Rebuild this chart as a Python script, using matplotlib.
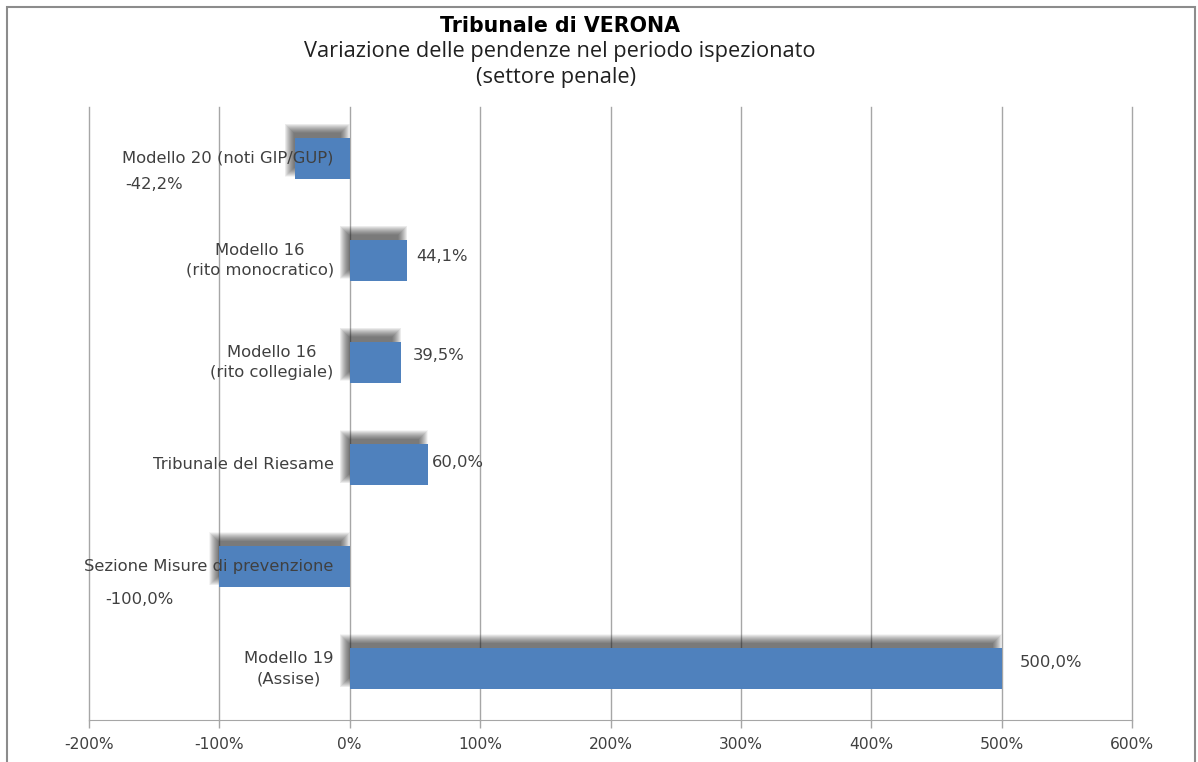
import numpy as np
import matplotlib
matplotlib.use('Agg')
import matplotlib.pyplot as plt
from matplotlib.patches import Rectangle

# dati (variazione % pendenze)
categorie = ['Modello 20 (noti GIP/GUP)',
             'Modello 16\n(rito monocratico)',
             'Modello 16\n(rito collegiale)',
             'Tribunale del Riesame',
             'Sezione Misure di prevenzione',
             'Modello 19\n(Assise)']
valori = [-42.2, 44.1, 39.5, 60.0, -100.0, 500.0]
etichette = ['-42,2%', '44,1%', '39,5%', '60,0%', '-100,0%', '500,0%']
tick_x = [-200, -100, 0, 100, 200, 300, 400, 500, 600]
tick_lab = ['-200%', '-100%', '0%', '100%', '200%', '300%', '400%', '500%', '600%']

# spostamento delle etichette dei valori (in pixel: dx, dy)
off_lab = [(-141, -26), (9, 4), (12, 7), (4, 2), (-80, -33), (18, 6)]

col_barra = '#4F81BD'
col_testo = '#404040'
col_griglia = '#A6A6A6'

fig = plt.figure(figsize=(11.98, 7.62), dpi=100)
ax = fig.add_axes([89/1198, 42/762, 1043/1198, 613/762])

y = np.arange(len(valori))
h = 0.4

# conversione pixel -> unità dati per l'ombra
px_x = 800 / 1043.0
px_y = 6 / 613.0

# ombra sfumata (in alto a sinistra)
for m in np.arange(6, -3.5, -0.5):
    for yi, v in zip(y, valori):
        x0 = min(0, v) - 4 * px_x - m * px_x
        w = abs(v) + 2 * m * px_x - 2 * px_x
        y0 = yi - h / 2 - 8 * px_y - m * px_y
        ax.add_patch(Rectangle((x0, y0), w, h + 2 * m * px_y,
                               facecolor='#202020', alpha=0.045,
                               edgecolor='none', zorder=2))

ax.barh(y, valori, height=h, color=col_barra, zorder=3)

# etichette categoria a sinistra dello zero
for yi, c in zip(y, categorie):
    ax.annotate(c, xy=(0, yi), xytext=(-11.5, 0), textcoords='offset points',
                ha='right', va='center', multialignment='center',
                fontsize=11.8, color=col_testo, linespacing=1.45, zorder=4)

# etichette valori
for yi, v, lab, (dx, dy) in zip(y, valori, etichette, off_lab):
    ha = 'left' if v > 0 else 'center'
    ax.annotate(lab, xy=(v, yi), xytext=(dx * 0.72, dy * 0.72),
                textcoords='offset points', ha=ha, va='center',
                fontsize=11.8, color=col_testo, zorder=4)

ax.set_xlim(-200, 600)
ax.set_ylim(len(valori) - 0.5, -0.5)
ax.set_xticks(tick_x)
ax.set_xticklabels(tick_lab, fontsize=11.2, color=col_testo)
ax.set_yticks([])
ax.grid(axis='x', color=col_griglia, linewidth=1)
for gl in ax.get_xgridlines():
    gl.set_clip_on(False)
ax.set_axisbelow(True)
for s in ['top', 'right', 'left']:
    ax.spines[s].set_visible(False)
ax.spines['bottom'].set_color(col_griglia)
ax.tick_params(axis='x', colors=col_griglia, length=6, width=1, pad=6,
               labelcolor=col_testo)

# titolo
fig.text(560/1198, 1 - 26/762, 'Tribunale di VERONA', ha='center', va='center',
         fontsize=14.8, fontweight='bold', color='black')
fig.text(560/1198, 1 - 52/762, 'Variazione delle pendenze nel periodo ispezionato',
         ha='center', va='center', fontsize=15.7, family='Open Sans', color='#202020')
fig.text(556/1198, 1 - 78/762, '(settore penale)', ha='center', va='center',
         fontsize=15.7, family='Open Sans', color='#202020')

# cornice del grafico
fig.patches.append(Rectangle((7/1198, -0.05), 1188/1198, 1.05 - 7/762,
                             transform=fig.transFigure, fill=False,
                             edgecolor='#8C8C8C', linewidth=1.5))

plt.savefig('out.png', dpi=100)
